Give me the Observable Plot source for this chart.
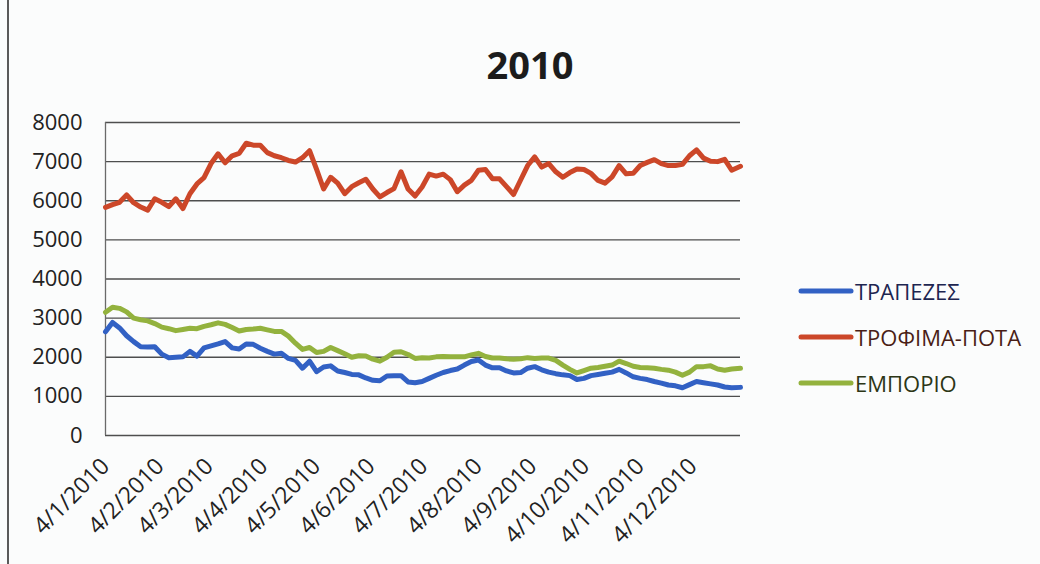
<!DOCTYPE html>
<html>
<head>
<meta charset="utf-8">
<script src="https://cdn.jsdelivr.net/npm/d3@7"></script>
<script src="https://cdn.jsdelivr.net/npm/@observablehq/plot@0.6"></script>
<style>
  body { margin: 0; background: #fbfcfc; }
  #chart { position: relative; width: 1040px; height: 564px; overflow: hidden; font-family: "Open Sans", sans-serif; }
  #chart svg.plot { position: absolute; left: 0; top: 0; }
  #border { position: absolute; left: 7px; top: 0; width: 2px; height: 564px; background: #5a5a5a; }
  #title { position: absolute; left: 0; top: 38px; width: 1060px; text-align: center; font-size: 38px; font-weight: 700; color: #1c1c1c; }
  .legend-item { position: absolute; left: 798px; height: 26px; display: flex; align-items: center; font-size: 22px; white-space: nowrap; }
  .legend-item svg { margin-right: 1px; }
</style>
</head>
<body>
<div id="chart">
  <div id="border"></div>
  <div id="title">2010</div>
</div>
<script>
// Sample dates (every few days through 2010) and index levels per sector
const dates = [
  "2010-01-04","2010-01-08","2010-01-12","2010-01-16","2010-01-20","2010-01-24","2010-01-28",
  "2010-02-01","2010-02-05","2010-02-09","2010-02-13","2010-02-17","2010-02-21","2010-02-25",
  "2010-03-01","2010-03-05","2010-03-09","2010-03-13","2010-03-17","2010-03-21","2010-03-25","2010-03-29",
  "2010-04-02","2010-04-06","2010-04-10","2010-04-14","2010-04-18","2010-04-22","2010-04-26","2010-04-30",
  "2010-05-04","2010-05-08","2010-05-12","2010-05-16","2010-05-20","2010-05-24","2010-05-28",
  "2010-06-01","2010-06-05","2010-06-09","2010-06-13","2010-06-17","2010-06-21","2010-06-25","2010-06-29",
  "2010-07-03","2010-07-07","2010-07-11","2010-07-15","2010-07-19","2010-07-23","2010-07-27","2010-07-31",
  "2010-08-04","2010-08-08","2010-08-12","2010-08-16","2010-08-20","2010-08-24","2010-08-28",
  "2010-09-01","2010-09-05","2010-09-09","2010-09-13","2010-09-17","2010-09-21","2010-09-25","2010-09-29",
  "2010-10-03","2010-10-07","2010-10-11","2010-10-15","2010-10-19","2010-10-23","2010-10-27","2010-10-31",
  "2010-11-04","2010-11-08","2010-11-12","2010-11-16","2010-11-20","2010-11-24","2010-11-28",
  "2010-12-02","2010-12-06","2010-12-10","2010-12-14","2010-12-18","2010-12-22","2010-12-26","2010-12-31"
];

const trapezes = [
  2650,2890,2750,2550,2400,2270,2260,2270,2080,1990,
  2000,2010,2150,2030,2240,2290,2340,2400,2240,2210,
  2340,2330,2230,2150,2080,2100,1970,1920,1720,1900,
  1630,1750,1780,1650,1610,1560,1550,1470,1410,1400,
  1520,1530,1530,1370,1350,
  1380,1460,1540,1610,1660,1700,1800,1890,1930,1800,
  1730,1730,1650,1600,1610,1720,1760,1680,1620,1580,
  1550,1530,1430,1460,1530,1560,1590,1620,1690,1600,
  1500,1460,1430,1380,1340,1290,1270,1220,1300,1380,
  1350,1320,1290,1240,1220,1230
];

const trofimaPota = [
  5830,5900,5960,6150,5950,5840,5760,6050,5960,5850,
  6050,5800,6180,6430,6590,6950,7200,6970,7150,7210,
  7470,7420,7420,7230,7150,7100,7030,6990,7100,7280,
  6800,6300,6600,6450,6180,6360,6460,6550,6300,6100,
  6210,6310,6740,6300,6120,
  6350,6680,6630,6680,6540,6230,6400,6520,6780,6800,
  6560,6560,6360,6160,6530,6900,7120,6860,6950,6740,
  6600,6720,6810,6800,6700,6520,6450,6610,6900,6690,
  6700,6900,6980,7050,6950,6900,6900,6930,7150,7300,
  7090,7010,7000,7060,6780,6880
];

const emporio = [
  3150,3280,3250,3160,3000,2960,2930,2860,2770,2730,
  2680,2710,2740,2730,2790,2830,2880,2840,2760,2670,
  2710,2720,2740,2700,2660,2660,2540,2360,2200,2250,
  2120,2150,2250,2170,2090,2000,2040,2030,1950,1900,
  2000,2130,2140,2070,1970,
  1990,1980,2010,2020,2010,2010,2010,2060,2100,2020,
  1980,1980,1960,1950,1960,1990,1970,1980,1980,1920,
  1800,1690,1600,1660,1720,1740,1770,1800,1900,1840,
  1770,1740,1730,1720,1690,1670,1620,1540,1620,1760,
  1760,1780,1700,1670,1700,1720
];

const seriesNames = ["ΤΡΑΠΕΖΕΣ", "ΤΡΟΦΙΜΑ-ΠΟΤΑ", "ΕΜΠΟΡΙΟ"];
const seriesColors = ["#3261c4", "#cc4729", "#93b23e"];
const legendTextColors = ["#1d2550", "#4a1e16", "#2c3616"];
const yTicks = [0, 1000, 2000, 3000, 4000, 5000, 6000, 7000, 8000];
const xTickDates = [
  "2010-01-04","2010-02-04","2010-03-04","2010-04-04","2010-05-04","2010-06-04",
  "2010-07-04","2010-08-04","2010-09-04","2010-10-04","2010-11-04","2010-12-04"
];

// Long table for the line mark
const seriesValues = [trapezes, trofimaPota, emporio];
const rows = [];
seriesNames.forEach((name, s) => {
  dates.forEach((d, i) => rows.push({ date: new Date(d), value: seriesValues[s][i], series: name }));
});

const start = new Date(dates[0]);
const end = new Date(dates[dates.length - 1]);
const dmy = d => `${d.getUTCDate()}/${d.getUTCMonth() + 1}/${d.getUTCFullYear()}`;

const chart = Plot.plot({
  width: 1040,
  height: 564,
  marginLeft: 105,
  marginRight: 300,
  marginTop: 122,
  marginBottom: 129,
  style: { background: "transparent", fontFamily: "'Open Sans', sans-serif", color: "#222" },
  x: { type: "utc", domain: [start, end] },
  y: { domain: [0, 8000] },
  color: { domain: seriesNames, range: seriesColors },
  marks: [
    Plot.ruleY(yTicks, { stroke: "#4e4e4e", strokeWidth: 1.3 }),
    Plot.ruleX([start], { stroke: "#6a6a6a", strokeWidth: 1.3 }),
    Plot.axisY({ ticks: yTicks, tickSize: 0, tickPadding: 23, fontSize: 22, tickFormat: d3.format("d"), label: null }),
    Plot.axisX({
      ticks: xTickDates.map(d => new Date(d)),
      tickSize: 0,
      tickPadding: 27,
      tickRotate: -45,
      fontSize: 23,
      tickFormat: dmy,
      label: null
    }),
    Plot.line(rows, {
      x: "date", y: "value", z: "series", stroke: "series",
      strokeWidth: 5, strokeLinejoin: "round", strokeLinecap: "round"
    })
  ]
});
document.getElementById("chart").appendChild(chart);

// Legend on the right
const legendTops = [278, 324, 370];
seriesNames.forEach((name, i) => {
  const item = document.createElement("div");
  item.className = "legend-item";
  item.style.top = legendTops[i] + "px";
  item.style.color = legendTextColors[i];
  item.innerHTML = `<svg width="56" height="10"><line x1="3" y1="5" x2="53" y2="5" stroke="${seriesColors[i]}" stroke-width="5" stroke-linecap="round"/></svg><span>${name}</span>`;
  document.getElementById("chart").appendChild(item);
});
</script>
</body>
</html>
